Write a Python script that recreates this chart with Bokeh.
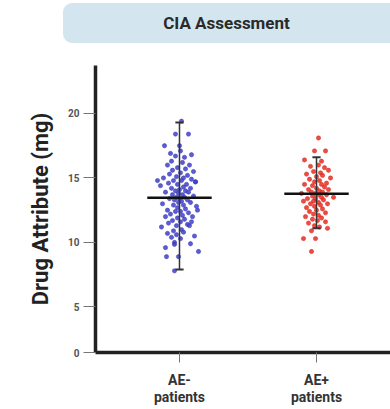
from bokeh.plotting import figure
from bokeh.models import ColumnDataSource, FixedTicker, Div
from bokeh.layouts import column
from bokeh.embed import file_html
from bokeh.resources import INLINE

categories = ["AE-\npatients", "AE+\npatients"]

# AE- patients: values (mg) and horizontal jitter (pixels)
ae_neg_values = [19.4, 18.4, 18.4, 17.5, 17.5, 17.1, 16.8, 16.7, 16.6, 16.3, 16.2, 16.0, 16.0,
                 15.8, 15.7, 15.6, 15.5, 15.4, 15.3, 15.2, 15.1, 15.0, 15.0, 14.9, 14.8, 14.8,
                 14.7, 14.6, 14.5, 14.5, 14.4, 14.3, 14.2, 14.2, 14.1, 14.0, 14.0, 13.9, 13.9,
                 13.8, 13.7, 13.7, 13.6, 13.5, 13.5, 13.4, 13.4, 13.3, 13.3, 13.2, 13.1, 13.1,
                 13.0, 12.9, 12.9, 12.8, 12.7, 12.6, 12.5, 12.4, 12.4, 12.3, 12.2, 12.1, 12.0,
                 12.0, 11.9, 11.8, 11.7, 11.6, 11.5, 11.4, 11.3, 11.3, 11.2, 11.0, 10.9, 10.8,
                 10.7, 10.6, 10.5, 10.4, 10.3, 10.0, 9.9, 9.85, 9.6, 9.3, 8.9, 8.9, 7.8,
                 14.8, 14.7, 12.5, 11.6, 16.9]
ae_neg_jitter = [2, -4, 9, -15, 0, 1, 12, -4, 5, -8, 3, -12, 10,
                 -2, 6, -7, 14, 1, -10, 8, -3, 4, -16, 12, -6, 2,
                 16, -11, 7, -2, -19, 4, -8, 11, 0, -4, 6, -14, 9,
                 -1, 3, -7, 14, -3, 5, 0, -10, 8, -5, 2, -1, 11,
                 -17, 4, -6, 17, -2, 6, -12, 1, -4, 9, -9, 3, -14,
                 13, -2, 5, -7, 1, -11, 8, -3, 10, -18, 2, -6, 4,
                 -12, -3, 15, -8, 1, -5, 11, -5, -14, 19, -13, -1, -5,
                 -22, 16, 18, 12, -9]

# AE+ patients
ae_pos_values = [18.1, 17.1, 17.1, 16.4, 16.3, 16.0, 15.9, 15.8, 15.6, 15.5, 15.4, 15.3, 15.2,
                 15.1, 15.0, 14.9, 14.8, 14.7, 14.6, 14.5, 14.5, 14.4, 14.3, 14.2, 14.1, 14.1,
                 14.0, 13.9, 13.9, 13.8, 13.8, 13.7, 13.7, 13.6, 13.5, 13.5, 13.4, 13.4, 13.3,
                 13.2, 13.2, 13.1, 13.0, 13.0, 12.9, 12.8, 12.7, 12.6, 12.5, 12.4, 12.3, 12.2,
                 12.1, 12.0, 11.9, 11.8, 11.7, 11.6, 11.5, 11.3, 11.2, 11.1, 10.9, 10.3, 10.3, 9.3]
ae_pos_jitter = [2, -2, 9, -12, 5, 2, -6, 8, 12, -3, 4, -10, 6,
                 0, 14, -7, 3, -2, 10, -12, 5, -4, 8, 0, -8, 12,
                 3, -5, 6, -1, -15, 2, 10, -4, 17, 5, -9, -1, 7,
                 -3, -13, 2, 11, -6, 4, -2, -10, 6, 0, -7, 9, -3,
                 2, -11, 5, -4, 1, 9, -8, -2, 3, 11, -5, -13, -1, -5]

means = [13.46, 13.77]
err_low = [7.9, 11.1]
err_high = [19.3, 16.6]

xpos = [1, 2]
PX = 137.0  # pixels per category unit (for converting jitter read in pixels)

p = figure(width=390, height=364, output_backend="svg", toolbar_location=None,
           x_range=(0.387, 2.54), y_range=(1.47, 23.72),
           min_border_left=95, min_border_right=0, min_border_top=20, min_border_bottom=57)
p.outline_line_color = None
p.grid.visible = False
p.background_fill_color = "white"
p.border_fill_color = "white"

src_neg = ColumnDataSource(dict(x=[xpos[0] + j / PX for j in ae_neg_jitter], y=ae_neg_values))
src_pos = ColumnDataSource(dict(x=[xpos[1] + j / PX for j in ae_pos_jitter], y=ae_pos_values))
p.scatter("x", "y", source=src_neg, size=4.3, fill_color="#4040cc", line_color="#3434b4",
          line_width=0.5, fill_alpha=0.85)
p.scatter("x", "y", source=src_pos, size=4.3, fill_color="#f02a1e", line_color="#c8281c",
          line_width=0.5, fill_alpha=0.85)

# error bars
p.segment(x0=xpos, y0=err_low, x1=xpos, y1=err_high, line_color="#333333", line_width=1.5)
cap = 0.03
p.segment(x0=[x - cap for x in xpos], y0=err_low, x1=[x + cap for x in xpos], y1=err_low,
          line_color="#333333", line_width=2)
p.segment(x0=[x - cap for x in xpos], y0=err_high, x1=[x + cap for x in xpos], y1=err_high,
          line_color="#333333", line_width=2)
# mean lines
hw = 0.235
p.segment(x0=[x - hw for x in xpos], y0=means, x1=[x + hw for x in xpos], y1=means,
          line_color="#111111", line_width=2.5)

# y axis
yticks = [1.47, 5, 10, 15, 20]
p.yaxis.ticker = FixedTicker(ticks=yticks)
p.yaxis.major_label_overrides = {1.47: "0", 5: "5", 10: "10", 15: "15", 20: "20"}
p.yaxis.axis_label = "Drug Attribute (mg)"
p.yaxis.axis_label_text_font = "Roboto"
p.yaxis.axis_label_text_font_style = "bold"
p.yaxis.axis_label_text_font_size = "22px"
p.yaxis.axis_label_text_color = "#222222"
p.yaxis.axis_label_standoff = 12
p.yaxis.major_label_text_font = "Roboto"
p.yaxis.major_label_text_font_style = "bold"
p.yaxis.major_label_text_font_size = "10px"
p.yaxis.major_label_text_color = "#555555"
p.yaxis.major_label_standoff = 4
p.yaxis.major_tick_in = 0
p.yaxis.major_tick_out = 12
p.yaxis.major_tick_line_color = "#777777"
p.yaxis.minor_tick_line_color = None

# x axis
p.xaxis.ticker = FixedTicker(ticks=xpos)
p.xaxis.major_label_overrides = {xpos[0]: categories[0], xpos[1]: categories[1]}
p.xaxis.major_label_text_font = "Roboto"
p.xaxis.major_label_text_font_style = "bold"
p.xaxis.major_label_text_font_size = "14px"
p.xaxis.major_label_text_color = "#333333"
p.xaxis.major_label_text_line_height = 1.1
p.xaxis.major_label_standoff = 9
p.xaxis.major_tick_in = 0
p.xaxis.major_tick_out = 10
p.xaxis.major_tick_line_color = "#777777"
p.xaxis.minor_tick_line_color = None

for ax in (p.xaxis, p.yaxis):
    ax.axis_line_width = 3.5
    ax.axis_line_color = "#222222"

title = Div(text='<div style="width:327px;height:40px;line-height:40px;background:#d3e6f0;'
                 'border-radius:9px 0 0 9px;text-align:center;font-family:Roboto;'
                 'font-weight:bold;font-size:17px;color:#2a2a2a;">CIA Assessment</div>',
            width=327, height=40, margin=(3, 0, 2, 63))

layout = column(title, p, spacing=0)
open("out.html", "w").write(file_html(layout, INLINE))
